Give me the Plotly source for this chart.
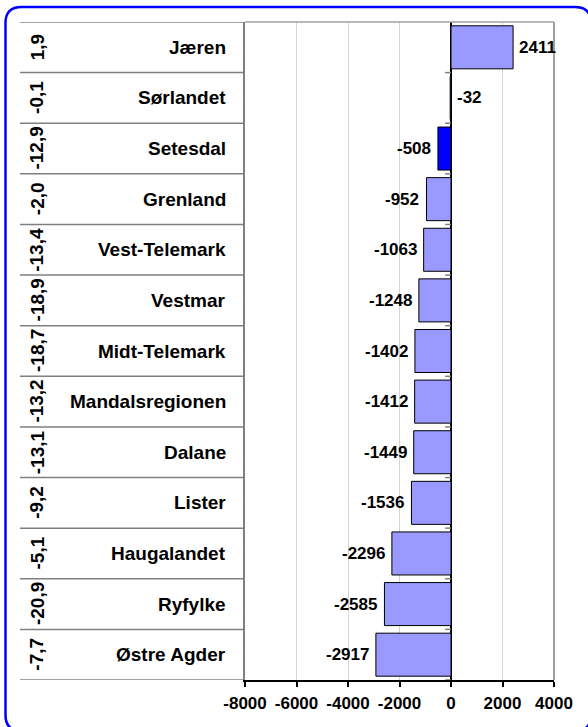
import plotly.graph_objects as go

regions = ["Jæren", "Sørlandet", "Setesdal", "Grenland", "Vest-Telemark", "Vestmar",
           "Midt-Telemark", "Mandalsregionen", "Dalane", "Lister", "Haugalandet",
           "Ryfylke", "Østre Agder"]
values = [2411, -32, -508, -952, -1063, -1248, -1402, -1412, -1449, -1536, -2296, -2585, -2917]
percents = ["1,9", "-0,1", "-12,9", "-2,0", "-13,4", "-18,9", "-18,7", "-13,2", "-13,1",
            "-9,2", "-5,1", "-20,9", "-7,7"]
highlight = "Setesdal"
x_ticks = [-8000, -6000, -4000, -2000, 0, 2000, 4000]

W, H = 588, 727
FONT = "Liberation Sans, Arial, sans-serif"

def px(p):
    return p / W

def py(p):
    return 1 - p / H

colors = ["#0000FF" if r == highlight else "#9999FF" for r in regions]

fig = go.Figure()
fig.add_trace(go.Bar(
    y=regions, x=values, orientation="h",
    marker=dict(color=colors, line=dict(color="#000000", width=1)),
    hoverinfo="skip",
))

annotations = []
# value labels
for r, v in zip(regions, values):
    if v >= 0 or abs(v) < 100:
        anchor, xv, shift = "left", max(v, 0), 4
    else:
        anchor, xv, shift = "right", v, -5
    annotations.append(dict(
        x=xv, y=r, xref="x", yref="y", text=f"{v}", showarrow=False,
        xanchor=anchor, yanchor="middle", xshift=shift,
        font=dict(family=FONT, size=17, color="#000000", weight="bold"),
    ))
# category names and percents
for r, p in zip(regions, percents):
    annotations.append(dict(
        x=px(228), y=r, xref="paper", yref="y", text=r, showarrow=False,
        xanchor="right", yanchor="middle",
        font=dict(family=FONT, size=19, color="#000000", weight="bold"),
    ))
    annotations.append(dict(
        x=px(37), y=r, xref="paper", yref="y", text=p, showarrow=False,
        xanchor="center", yanchor="middle", textangle=-90,
        font=dict(family=FONT, size=19, color="#000000", weight="bold"),
    ))

shapes = []
n = len(regions)
# table row lines
for i in range(n + 1):
    shapes.append(dict(type="line", xref="paper", yref="y",
                       x0=px(20), x1=px(245), y0=i - 0.5, y1=i - 0.5,
                       line=dict(color="#808080", width=1.5)))
    # small ticks at category boundaries next to zero line
    if 0 < i:
        shapes.append(dict(type="line", xref="x", yref="y",
                           x0=-230, x1=0, y0=i - 0.5, y1=i - 0.5,
                           line=dict(color="#808080", width=1.5)))
# plot border top and right
shapes.append(dict(type="line", xref="paper", yref="paper",
                   x0=px(245), x1=px(554), y0=py(22), y1=py(22),
                   line=dict(color="#A0A0A0", width=1.5)))
shapes.append(dict(type="line", xref="paper", yref="paper",
                   x0=px(554), x1=px(554), y0=py(22), y1=py(680),
                   line=dict(color="#A0A0A0", width=2)))
# outer rounded frame (blue)
L, T, R, B, rad = 5.5, 7, 591, 731, 16
path = (f"M {px(L+rad)},{py(T)} L {px(R-rad)},{py(T)} Q {px(R)},{py(T)} {px(R)},{py(T+rad)} "
        f"L {px(R)},{py(B-rad)} Q {px(R)},{py(B)} {px(R-rad)},{py(B)} "
        f"L {px(L+rad)},{py(B)} Q {px(L)},{py(B)} {px(L)},{py(B-rad)} "
        f"L {px(L)},{py(T+rad)} Q {px(L)},{py(T)} {px(L+rad)},{py(T)} Z")
shapes.append(dict(type="path", xref="paper", yref="paper", path=path,
                   line=dict(color="#0000FF", width=2.5)))

fig.update_layout(
    width=W, height=H,
    margin=dict(l=0, r=0, t=0, b=0, pad=0, autoexpand=False),
    paper_bgcolor="white", plot_bgcolor="white",
    showlegend=False,
    bargap=0.15,
    xaxis=dict(
        domain=[px(245), px(554)], range=[-8000, 4000],
        tickvals=x_ticks, ticktext=[str(t) for t in x_ticks],
        showgrid=True, gridcolor="#D4D4D4", gridwidth=1,
        zeroline=True, zerolinecolor="#000000", zerolinewidth=1.5,
        showline=True, linecolor="#000000", linewidth=1.5,
        ticks="outside", ticklen=5, tickcolor="#000000", tickwidth=1.5,
        ticklabelstandoff=2, automargin=False,
        tickfont=dict(family=FONT, size=17, color="#000000", weight="bold"),
        fixedrange=True,
    ),
    yaxis=dict(
        domain=[py(680), py(22)],
        categoryorder="array", categoryarray=regions,
        range=[n - 0.5, -0.5], automargin=False,
        showticklabels=False, ticks="", showgrid=False, zeroline=False,
        showline=True, linecolor="#808080", linewidth=1.5,
        fixedrange=True,
    ),
    annotations=annotations,
    shapes=shapes,
)

fig.write_html(
    "out.html",
    config={"responsive": False, "displayModeBar": False},
    post_script="document.body.style.margin='0';document.body.style.overflow='hidden';",
)
